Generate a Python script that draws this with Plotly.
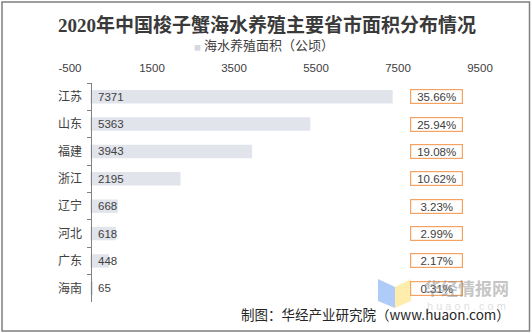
import plotly.graph_objects as go

provinces = ["江苏", "山东", "福建", "浙江", "辽宁", "河北", "广东", "海南"]
areas = [7371, 5363, 3943, 2195, 668, 618, 448, 65]
shares = [35.66, 25.94, 19.08, 10.62, 3.23, 2.99, 2.17, 0.31]
x_ticks = [-500, 1500, 3500, 5500, 7500, 9500]
series_name = "海水养殖面积（公顷）"
title_text = "2020年中国梭子蟹海水养殖主要省市面积分布情况"
source_text = "制图：华经产业研究院（www.huaon.com）"

W, H = 532, 333
L, R, T, B = 70, 52, 83, 31
pw, ph = W - L - R, H - T - B

def px(x):
    return (x - L) / pw

def py(y):
    return (H - B - y) / ph

SANS = "Liberation Sans, Arial, Noto Sans CJK SC, sans-serif"
CJK = "Noto Sans CJK SC, Liberation Sans, sans-serif"
BAR_COLOR = "#E1E4EB"

fig = go.Figure()
fig.add_trace(go.Bar(
    x=areas, y=provinces, orientation="h", name=series_name,
    marker=dict(color=BAR_COLOR, line=dict(width=0)), width=0.49,
    hoverinfo="x+y", showlegend=False,
))

annotations = []
for p, v in zip(provinces, areas):
    annotations.append(dict(x=0, y=p, xref="x", yref="y", text=str(v), showarrow=False,
                            xanchor="left", xshift=5, font=dict(family=SANS, size=11.5, color="#404040")))
pct_x = 8450
for p, s in zip(provinces, shares):
    annotations.append(dict(x=pct_x, y=p, xref="x", yref="y", text=f"{s:.2f}%", showarrow=False,
                            xanchor="center", width=50, height=12, borderpad=0.5,
                            bordercolor="#F5A363", borderwidth=1.2, bgcolor="rgba(255,255,255,0)",
                            font=dict(family=SANS, size=11.5, color="#404040")))

# legend (manual)
annotations.append(dict(x=px(192), y=py(45), xref="paper", yref="paper",
                        text=f"<span style='color:#D5D9E1;font-size:7px'>■</span> {series_name}",
                        showarrow=False, xanchor="left", yanchor="middle",
                        font=dict(family=CJK, size=13, color="#404040")))

# watermark
annotations.append(dict(x=px(466), y=py(287), xref="paper", yref="paper", text="<b>华经情报网</b>",
                        showarrow=False, xanchor="center", yanchor="middle",
                        font=dict(family=CJK, size=17, color="rgba(140,140,140,0.5)")))
annotations.append(dict(x=px(466), y=py(306), xref="paper", yref="paper", text="h u a o n . c o m",
                        showarrow=False, xanchor="center", yanchor="middle",
                        font=dict(family=SANS, size=11, color="rgba(170,170,170,0.4)")))
# source
annotations.append(dict(x=px(512), y=py(314), xref="paper", yref="paper", text=source_text,
                        showarrow=False, xanchor="right", yanchor="middle",
                        font=dict(family=CJK, size=13.5, color="#262626")))

def path(points):
    return "M " + " L ".join(f"{px(a)},{py(b)}" for a, b in points) + " Z"

shapes = [
    dict(type="path", xref="paper", yref="paper", path=path([(378, 279), (395, 287), (395, 308), (378, 301)]),
         fillcolor="rgba(110,160,240,0.55)", line=dict(width=0), layer="above"),
    dict(type="path", xref="paper", yref="paper", path=path([(395, 287), (411, 279), (411, 301), (395, 308)]),
         fillcolor="rgba(255,225,120,0.6)", line=dict(width=0), layer="above"),
    dict(type="rect", xref="paper", yref="paper", x0=px(2), x1=px(529.5), y0=py(331), y1=py(2),
         line=dict(color="#7F7F7F", width=1.5), fillcolor="rgba(0,0,0,0)"),
]

fig.update_layout(
    width=W, height=H, margin=dict(l=L, r=R, t=T, b=B),
    paper_bgcolor="white", plot_bgcolor="white",
    title=dict(text="<b>" + title_text + "</b>", x=0.502, xanchor="center", y=1 - 25 / H, yanchor="middle",
               font=dict(family="Liberation Serif, Noto Sans CJK SC, serif", size=19, color="#3A3A3A")),
    showlegend=False,
    xaxis=dict(range=[-500, 9500], side="top", tickvals=x_ticks, ticktext=[str(t) for t in x_ticks],
               showgrid=False, zeroline=False, showline=False, ticks="outside", ticklen=5,
               tickcolor="rgba(0,0,0,0)", tickfont=dict(family=SANS, size=11.5, color="#404040")),
    yaxis=dict(categoryorder="array", categoryarray=provinces, autorange="reversed",
               anchor="free", position=0.05, showgrid=False, zeroline=False,
               showline=True, linecolor="#808080", linewidth=1,
               ticks="outside", tickson="boundaries", ticklen=4, tickcolor="#808080",
               ticklabelstandoff=6,
               tickfont=dict(family=CJK, size=12, color="#404040")),
    annotations=annotations, shapes=shapes,
)

fig.write_html("out.html")
